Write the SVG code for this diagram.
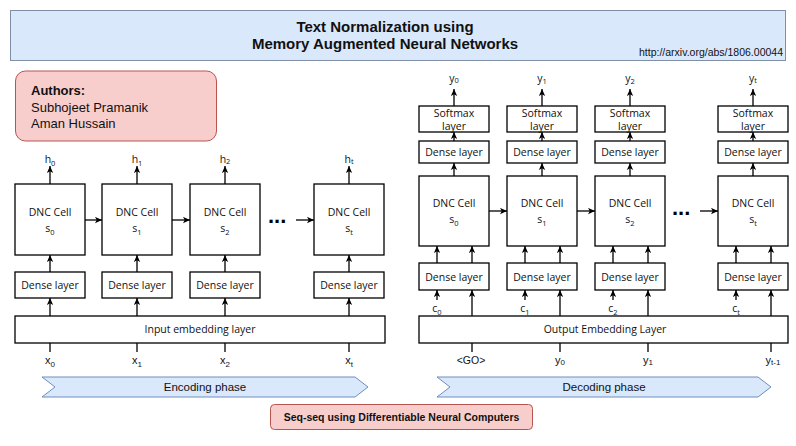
<svg xmlns="http://www.w3.org/2000/svg" width="796" height="446" viewBox="0 0 796 446">
<defs>
<marker id="ah" viewBox="0 0 10 10" refX="10" refY="5" markerWidth="7" markerHeight="7" markerUnits="userSpaceOnUse" orient="auto">
<path d="M0,0.5 L10,5 L0,9.5 L2.5,5 z" fill="#000"/>
</marker>
<style>
.box{fill:#fff;stroke:#000;stroke-width:1.3}
.lbl{font-family:"Open Sans","Noto Sans",sans-serif;font-size:10.5px;fill:#111;text-anchor:middle}
.sub{font-size:7.5px}
.ar{font-family:"Liberation Sans",Arial,sans-serif;fill:#111}
.c{stroke:#000;stroke-width:1.3;fill:none}
.ca{stroke:#000;stroke-width:1.3;fill:none;marker-end:url(#ah)}
.dots{font-family:"Liberation Sans",Arial,sans-serif;font-weight:bold;font-size:22px;fill:#000}
.phase{fill:#dae8fc;stroke:#6c8ebf;stroke-width:1}
</style>
</defs>
<rect width="796" height="446" fill="#fff"/>

<g id="title">
<rect x="10.5" y="10.5" width="775" height="50" fill="#dae8fc" stroke="#7f8fa6" stroke-width="1"/>
<text class="ar" x="385" y="32" font-size="15" font-weight="bold" text-anchor="middle">Text Normalization using</text>
<text class="ar" x="385" y="49" font-size="15" font-weight="bold" text-anchor="middle">Memory Augmented Neural Networks</text>
<text class="ar" x="783" y="56" font-size="10.5" text-anchor="end">http://arxiv.org/abs/1806.00044</text>
</g>

<g id="authors">
<rect x="15.5" y="71" width="201" height="70" rx="10" fill="#f8cecc" stroke="#b85450" stroke-width="1"/>
<text class="ar" x="31" y="95" font-size="13" font-weight="bold">Authors:</text>
<text class="ar" x="31" y="112" font-size="13">Subhojeet Pramanik</text>
<text class="ar" x="31" y="128" font-size="13">Aman Hussain</text>
</g>

<!-- Encoder -->
<g id="enc-cell-0"><rect class="box" x="15" y="184" width="70" height="71"/><text class="lbl" x="50" y="216">DNC Cell</text><text class="lbl" x="50" y="232">s<tspan class="sub" dy="3">0</tspan></text></g>
<g id="enc-cell-1"><rect class="box" x="102" y="184" width="70" height="71"/><text class="lbl" x="137" y="216">DNC Cell</text><text class="lbl" x="137" y="232">s<tspan class="sub" dy="3">1</tspan></text></g>
<g id="enc-cell-2"><rect class="box" x="190" y="184" width="70" height="71"/><text class="lbl" x="225" y="216">DNC Cell</text><text class="lbl" x="225" y="232">s<tspan class="sub" dy="3">2</tspan></text></g>
<g id="enc-cell-t"><rect class="box" x="314" y="184" width="70" height="71"/><text class="lbl" x="349" y="216">DNC Cell</text><text class="lbl" x="349" y="232">s<tspan class="sub" dy="3">t</tspan></text></g>

<g id="enc-dense-0"><rect class="box" x="15" y="272" width="70" height="26"/><text class="lbl" x="50" y="289">Dense layer</text></g>
<g id="enc-dense-1"><rect class="box" x="102" y="272" width="70" height="26"/><text class="lbl" x="137" y="289">Dense layer</text></g>
<g id="enc-dense-2"><rect class="box" x="190" y="272" width="70" height="26"/><text class="lbl" x="225" y="289">Dense layer</text></g>
<g id="enc-dense-t"><rect class="box" x="314" y="272" width="70" height="26"/><text class="lbl" x="349" y="289">Dense layer</text></g>

<g id="enc-embedding"><rect class="box" x="15" y="316" width="370" height="27"/><text class="lbl" x="200" y="333">Input embedding layer</text></g>

<g id="enc-labels">
<text class="lbl" x="50" y="163" font-size="11">h<tspan class="sub" dy="3">0</tspan></text>
<text class="lbl" x="137" y="163" font-size="11">h<tspan class="sub" dy="3">1</tspan></text>
<text class="lbl" x="225" y="163" font-size="11">h<tspan class="sub" dy="1">2</tspan></text>
<text class="lbl" x="349" y="163" font-size="11">h<tspan class="sub" dy="1">t</tspan></text>
<text class="ar" x="50" y="364" font-size="11" text-anchor="middle">x<tspan font-size="8" dy="3">0</tspan></text>
<text class="ar" x="137" y="364" font-size="11" text-anchor="middle">x<tspan font-size="8" dy="3">1</tspan></text>
<text class="ar" x="225" y="364" font-size="11" text-anchor="middle">x<tspan font-size="8" dy="3">2</tspan></text>
<text class="ar" x="349" y="364" font-size="11" text-anchor="middle">x<tspan font-size="8" dy="3">t</tspan></text>
<text class="dots" x="268" y="223">...</text>
</g>

<g id="encoding-phase">
<polygon class="phase" points="42,377 355,377 368,387 355,397 42,397 55,387"/>
<text class="ar" x="205" y="391" font-size="11.5" text-anchor="middle">Encoding phase</text>
</g>

<!-- Decoder -->
<g id="dec-softmax-0"><rect class="box" x="419" y="106" width="70" height="26"/><text class="lbl" x="454" y="116.5">Softmax</text><text class="lbl" x="454" y="129.5">layer</text></g>
<g id="dec-softmax-1"><rect class="box" x="507" y="106" width="70" height="26"/><text class="lbl" x="542" y="116.5">Softmax</text><text class="lbl" x="542" y="129.5">layer</text></g>
<g id="dec-softmax-2"><rect class="box" x="595" y="106" width="70" height="26"/><text class="lbl" x="630" y="116.5">Softmax</text><text class="lbl" x="630" y="129.5">layer</text></g>
<g id="dec-softmax-t"><rect class="box" x="718" y="106" width="70" height="26"/><text class="lbl" x="753" y="116.5">Softmax</text><text class="lbl" x="753" y="129.5">layer</text></g>

<g id="dec-topdense-0"><rect class="box" x="419" y="141" width="70" height="22"/><text class="lbl" x="454" y="156">Dense layer</text></g>
<g id="dec-topdense-1"><rect class="box" x="507" y="141" width="70" height="22"/><text class="lbl" x="542" y="156">Dense layer</text></g>
<g id="dec-topdense-2"><rect class="box" x="595" y="141" width="70" height="22"/><text class="lbl" x="630" y="156">Dense layer</text></g>
<g id="dec-topdense-t"><rect class="box" x="718" y="141" width="70" height="22"/><text class="lbl" x="753" y="156">Dense layer</text></g>

<g id="dec-cell-0"><rect class="box" x="419" y="176" width="70" height="70"/><text class="lbl" x="454" y="207">DNC Cell</text><text class="lbl" x="454" y="223">s<tspan class="sub" dy="3">0</tspan></text></g>
<g id="dec-cell-1"><rect class="box" x="507" y="176" width="70" height="70"/><text class="lbl" x="542" y="207">DNC Cell</text><text class="lbl" x="542" y="223">s<tspan class="sub" dy="3">1</tspan></text></g>
<g id="dec-cell-2"><rect class="box" x="595" y="176" width="70" height="70"/><text class="lbl" x="630" y="207">DNC Cell</text><text class="lbl" x="630" y="223">s<tspan class="sub" dy="3">2</tspan></text></g>
<g id="dec-cell-t"><rect class="box" x="718" y="176" width="70" height="70"/><text class="lbl" x="753" y="207">DNC Cell</text><text class="lbl" x="753" y="223">s<tspan class="sub" dy="3">t</tspan></text></g>

<g id="dec-dense-0"><rect class="box" x="419" y="263" width="70" height="27"/><text class="lbl" x="454" y="281">Dense layer</text></g>
<g id="dec-dense-1"><rect class="box" x="507" y="263" width="70" height="27"/><text class="lbl" x="542" y="281">Dense layer</text></g>
<g id="dec-dense-2"><rect class="box" x="595" y="263" width="70" height="27"/><text class="lbl" x="630" y="281">Dense layer</text></g>
<g id="dec-dense-t"><rect class="box" x="718" y="263" width="70" height="27"/><text class="lbl" x="753" y="281">Dense layer</text></g>

<g id="dec-embedding"><rect class="box" x="419" y="316" width="369" height="27"/><text class="lbl" x="605" y="333">Output Embedding Layer</text></g>

<g id="dec-labels">
<text class="lbl" x="454" y="82" font-size="11">y<tspan class="sub" dy="1">0</tspan></text>
<text class="lbl" x="542" y="82" font-size="11">y<tspan class="sub" dy="2">1</tspan></text>
<text class="lbl" x="630" y="82" font-size="11">y<tspan class="sub" dy="2">2</tspan></text>
<text class="lbl" x="753" y="82" font-size="11">y<tspan class="sub" dy="1">t</tspan></text>
<text class="lbl" x="437" y="312" font-size="11">c<tspan class="sub" dy="3">0</tspan></text>
<text class="lbl" x="525" y="312" font-size="11">c<tspan class="sub" dy="3">1</tspan></text>
<text class="lbl" x="613" y="312" font-size="11">c<tspan class="sub" dy="3">2</tspan></text>
<text class="lbl" x="736" y="312" font-size="11">c<tspan class="sub" dy="3">t</tspan></text>
<text class="ar" x="471" y="364" font-size="10.5" text-anchor="middle">&lt;GO&gt;</text>
<text class="ar" x="560" y="364" font-size="11" text-anchor="middle">y<tspan font-size="8" dy="1">0</tspan></text>
<text class="ar" x="648" y="364" font-size="11" text-anchor="middle">y<tspan font-size="8" dy="1">1</tspan></text>
<text class="ar" x="773" y="364" font-size="11" text-anchor="middle">y<tspan font-size="8" dy="1">t-1</tspan></text>
<text class="dots" x="672" y="215">...</text>
</g>

<g id="decoding-phase">
<polygon class="phase" points="437,377 758,377 771,387 758,397 437,397 450,387"/>
<text class="ar" x="604" y="391" font-size="11.5" text-anchor="middle">Decoding phase</text>
</g>

<g id="footer">
<rect x="270.5" y="404.5" width="262" height="25" rx="4" fill="#f8cecc" stroke="#b85450" stroke-width="1"/>
<text class="ar" x="401.5" y="421" font-size="10.5" font-weight="bold" text-anchor="middle">Seq-seq using Differentiable Neural Computers</text>
</g>

<g id="connectors">
<!-- encoder: cell -> h -->
<line class="ca" x1="50" y1="184" x2="50" y2="166"/>
<line class="ca" x1="137" y1="184" x2="137" y2="166"/>
<line class="ca" x1="225" y1="184" x2="225" y2="166"/>
<line class="ca" x1="349" y1="184" x2="349" y2="166"/>
<!-- encoder: dense -> cell -->
<line class="ca" x1="50" y1="272" x2="50" y2="255"/>
<line class="ca" x1="137" y1="272" x2="137" y2="255"/>
<line class="ca" x1="225" y1="272" x2="225" y2="255"/>
<line class="ca" x1="349" y1="272" x2="349" y2="255"/>
<!-- encoder: embedding -> dense -->
<line class="ca" x1="50" y1="316" x2="50" y2="298"/>
<line class="ca" x1="137" y1="316" x2="137" y2="298"/>
<line class="ca" x1="225" y1="316" x2="225" y2="298"/>
<line class="ca" x1="349" y1="316" x2="349" y2="298"/>
<!-- encoder: inputs -->
<line class="c" x1="50" y1="343" x2="50" y2="352"/>
<line class="c" x1="137" y1="343" x2="137" y2="352"/>
<line class="c" x1="225" y1="343" x2="225" y2="352"/>
<line class="c" x1="349" y1="343" x2="349" y2="352"/>
<!-- encoder horizontal -->
<line class="ca" x1="85" y1="220" x2="102" y2="220"/>
<line class="ca" x1="172" y1="220" x2="190" y2="220"/>
<line class="ca" x1="296" y1="220" x2="314" y2="220"/>
<!-- decoder: softmax -> y -->
<line class="ca" x1="454" y1="106" x2="454" y2="89"/>
<line class="ca" x1="542" y1="106" x2="542" y2="89"/>
<line class="ca" x1="630" y1="106" x2="630" y2="89"/>
<line class="ca" x1="753" y1="106" x2="753" y2="89"/>
<!-- decoder: dense -> softmax -->
<line class="ca" x1="454" y1="141" x2="454" y2="132"/>
<line class="ca" x1="542" y1="141" x2="542" y2="132"/>
<line class="ca" x1="630" y1="141" x2="630" y2="132"/>
<line class="ca" x1="753" y1="141" x2="753" y2="132"/>
<!-- decoder: cell -> dense -->
<line class="ca" x1="454" y1="176" x2="454" y2="163"/>
<line class="ca" x1="542" y1="176" x2="542" y2="163"/>
<line class="ca" x1="630" y1="176" x2="630" y2="163"/>
<line class="ca" x1="753" y1="176" x2="753" y2="163"/>
<!-- decoder: dense -> cell (two each) -->
<line class="ca" x1="437" y1="263" x2="437" y2="246"/>
<line class="ca" x1="525" y1="263" x2="525" y2="246"/>
<line class="ca" x1="613" y1="263" x2="613" y2="246"/>
<line class="ca" x1="736" y1="263" x2="736" y2="246"/>
<line class="ca" x1="472" y1="263" x2="472" y2="246"/>
<line class="ca" x1="560" y1="263" x2="560" y2="246"/>
<line class="ca" x1="648" y1="263" x2="648" y2="246"/>
<line class="ca" x1="771" y1="263" x2="771" y2="246"/>
<!-- decoder: c -> dense -->
<line class="ca" x1="437" y1="300" x2="437" y2="290"/>
<line class="ca" x1="525" y1="300" x2="525" y2="290"/>
<line class="ca" x1="613" y1="300" x2="613" y2="290"/>
<line class="ca" x1="736" y1="300" x2="736" y2="290"/>
<!-- decoder: embedding -> dense -->
<line class="ca" x1="472" y1="316" x2="472" y2="290"/>
<line class="ca" x1="560" y1="316" x2="560" y2="290"/>
<line class="ca" x1="648" y1="316" x2="648" y2="290"/>
<line class="ca" x1="771" y1="316" x2="771" y2="290"/>
<!-- decoder: inputs -->
<line class="c" x1="472" y1="343" x2="472" y2="352"/>
<line class="c" x1="560" y1="343" x2="560" y2="352"/>
<line class="c" x1="648" y1="343" x2="648" y2="352"/>
<line class="c" x1="771" y1="343" x2="771" y2="352"/>
<!-- decoder horizontal -->
<line class="ca" x1="489" y1="211" x2="507" y2="211"/>
<line class="ca" x1="577" y1="211" x2="595" y2="211"/>
<line class="ca" x1="700" y1="211" x2="718" y2="211"/>
</g>
</svg>
